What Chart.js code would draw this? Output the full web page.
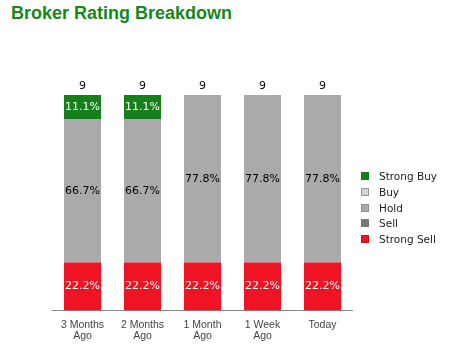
<!DOCTYPE html>
<html><head><meta charset="utf-8">
<script src="https://cdn.jsdelivr.net/npm/chart.js@4/dist/chart.umd.min.js"></script>
<style>
html,body{margin:0;padding:0;background:#fff;}
#wrap{position:relative;width:459px;height:351px;}
#title{position:absolute;left:11px;top:3px;font:bold 18px "Liberation Sans",Arial,sans-serif;color:#168816;margin:0;white-space:nowrap;}
canvas{position:absolute;left:0;top:0;}
#legend{position:absolute;left:361px;top:168px;font:10.5px "DejaVu Sans",sans-serif;color:#222;}
.li{position:absolute;left:0;white-space:nowrap;height:16px;line-height:16px;}
.sw{position:absolute;left:0;top:4px;width:8px;height:8px;box-sizing:border-box;}
.lt{position:absolute;left:18px;top:0;}
</style></head><body>
<div id="wrap"><div id="title">Broker Rating Breakdown</div><canvas id="c" width="459" height="351"></canvas><div id="legend"></div></div>
<script>
const categories = [["3 Months","Ago"],["2 Months","Ago"],["1 Month","Ago"],["1 Week","Ago"],"Today"];
const seriesNames = ["Strong Buy","Buy","Hold","Sell","Strong Sell"];
const strongBuy = [1,1,0,0,0];
const buy = [0,0,0,0,0];
const hold = [6,6,7,7,7];
const sell = [0,0,0,0,0];
const strongSell = [2,2,2,2,2];
const colors = ["#15801a","#d3d3d3","#aaaaaa","#777777","#ee1423"];
const borderCols = ["#15801a","#999999","#8f8f8f","#777777","#c81020"];
const labelColors = ["#ffffff","#000000","#000000","#ffffff","#ffffff"];

const counts = [strongBuy,buy,hold,sell,strongSell];
const totals = categories.map((_,i)=>counts.reduce((s,a)=>s+a[i],0));
const pct = counts.map(a=>a.map((v,i)=>v/totals[i]*100));

// datasets stacked bottom->top: Strong Sell, Sell, Hold, Buy, Strong Buy
const order = [4,3,2,1,0];
const datasets = order.map(k=>({
  label:seriesNames[k], data:pct[k], backgroundColor:colors[k],
  borderWidth:0, stack:"s", barPercentage:0.617, categoryPercentage:1.0,
  _k:k
}));

const labelPlugin = {
  id:"lbls",
  afterDatasetsDraw(chart){
    const ctx = chart.ctx;
    ctx.save();
    ctx.font = '11px "DejaVu Sans", sans-serif';
    ctx.textAlign = "center"; ctx.textBaseline = "middle";
    chart.data.datasets.forEach((ds,j)=>{
      const meta = chart.getDatasetMeta(j);
      meta.data.forEach((bar,i)=>{
        const v = ds.data[i];
        if(!v) return;
        const y = (bar.y + bar.base)/2;
        ctx.fillStyle = labelColors[ds._k];
        ctx.fillText(v.toFixed(1)+"%", bar.x, y);
      });
    });
    const y = chart.scales.y;
    const meta0 = chart.getDatasetMeta(0);
    ctx.fillStyle = "#000";
    meta0.data.forEach((bar,i)=>{
      ctx.fillText(String(totals[i]), bar.x, y.getPixelForValue(100)-9);
    });
    ctx.restore();
  }
};

// legend (HTML)
const lg = document.getElementById("legend");
seriesNames.forEach((n,k)=>{
  const d = document.createElement("div");
  d.className="li"; d.style.top = (k*15.75)+"px";
  d.innerHTML = '<span class="sw" style="background:'+colors[k]+';border:1px solid '+borderCols[k]+'"></span><span class="lt">'+n+'</span>';
  lg.appendChild(d);
});

new Chart(document.getElementById("c"),{
  type:"bar",
  data:{labels:categories, datasets:datasets},
  options:{
    responsive:false, animation:false,
    layout:{padding:{top:95,left:52.5,right:106.5,bottom:0.5}},
    plugins:{ title:{display:false}, tooltip:{enabled:false}, legend:{display:false} },
    scales:{
      x:{stacked:true, offset:true,
         grid:{display:false, drawTicks:false},
         border:{display:true, color:"#888888", width:1},
         ticks:{color:"#444444", padding:9, maxRotation:0, autoSkip:false,
                font:{family:"Liberation Sans", size:10.5, lineHeight:1.05}}},
      y:{stacked:true, display:false, min:0, max:100}
    }
  },
  plugins:[labelPlugin]
});
</script>
</body></html>
